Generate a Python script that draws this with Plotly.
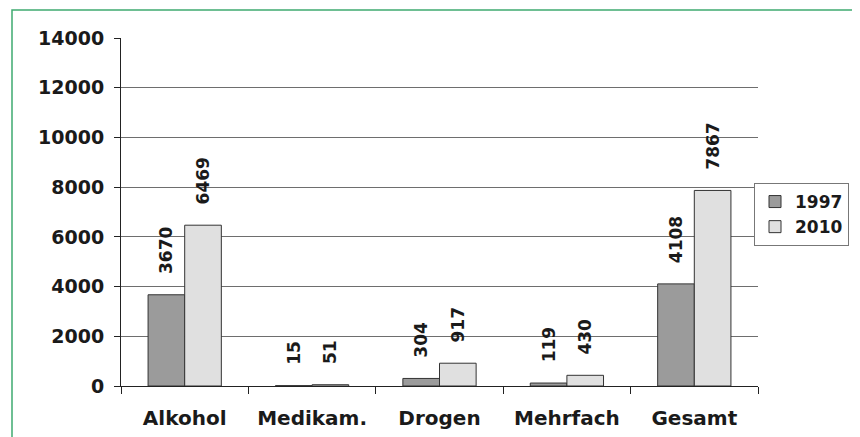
import plotly.graph_objects as go

categories = ["Alkohol", "Medikam.", "Drogen", "Mehrfach", "Gesamt"]
values_1997 = [3670, 15, 304, 119, 4108]
values_2010 = [6469, 51, 917, 430, 7867]
y_ticks = [0, 2000, 4000, 6000, 8000, 10000, 12000, 14000]

FONT = "DejaVu Sans"
OFF = 8  # browser body margin
W, H = 860 - OFF, 437 - OFF
L, R, T, B = 121 - OFF, 860 - 758, 38 - OFF, 437 - 386
pw, ph = W - L - R, H - T - B

def px_x(x):
    return (x - OFF - L) / pw

def px_y(y):
    return 1 - (y - OFF - T) / ph

pad = "\u00a0" * 3
fig = go.Figure()
fig.add_trace(go.Bar(
    name="1997", x=categories, y=values_1997,
    marker=dict(color="#9b9b9b", line=dict(color="#333333", width=1)),
    text=[pad + str(v) for v in values_1997], textposition="outside",
    textangle=-90, constraintext="none",
    textfont=dict(family=FONT, size=17, color="#1a1a1a", weight="bold"),
    cliponaxis=False,
))
fig.add_trace(go.Bar(
    name="2010", x=categories, y=values_2010,
    marker=dict(color="#e0e0e0", line=dict(color="#333333", width=1)),
    text=[pad + str(v) for v in values_2010], textposition="outside",
    textangle=-90, constraintext="none",
    textfont=dict(family=FONT, size=17, color="#1a1a1a", weight="bold"),
    cliponaxis=False,
))

fig.update_layout(
    width=W, height=H,
    margin=dict(l=L, r=R, t=T, b=B, pad=0, autoexpand=False),
    paper_bgcolor="white", plot_bgcolor="white",
    barmode="group", bargap=0.425, bargroupgap=0,
    font=dict(family=FONT, size=16, color="#1a1a1a"),
    legend=dict(
        x=px_x(754), y=px_y(183), xanchor="left", yanchor="top",
        bordercolor="#777777", borderwidth=1, bgcolor="white",
        font=dict(family=FONT, size=17, color="#1a1a1a", weight="bold"),
        itemwidth=30, tracegroupgap=0,
    ),
    showlegend=True,
)
fig.update_xaxes(
    showline=True, linecolor="#222222", linewidth=1,
    ticks="outside", ticklen=7, tickcolor="#222222", tickson="boundaries",
    tickfont=dict(family=FONT, size=20, color="#1a1a1a", weight="bold"),
    showgrid=False, ticklabelstandoff=14,
)
fig.update_yaxes(
    range=[0, 14000], tickvals=y_ticks,
    ticktext=[str(v) for v in y_ticks],
    showline=True, linecolor="#222222", linewidth=1,
    ticks="outside", ticklen=6, tickcolor="#222222",
    tickfont=dict(family=FONT, size=19, color="#1a1a1a", weight="bold"),
    showgrid=True, gridcolor="#6e6e6e", gridwidth=1,
    zeroline=False, ticklabelstandoff=6,
)

fig.add_shape(
    type="rect", xref="paper", yref="paper",
    x0=px_x(12), x1=px_x(855), y0=px_y(460), y1=px_y(10),
    line=dict(color="#3fab70", width=1.5), fillcolor="rgba(0,0,0,0)",
    layer="above",
)

fig.write_html("out.html")
